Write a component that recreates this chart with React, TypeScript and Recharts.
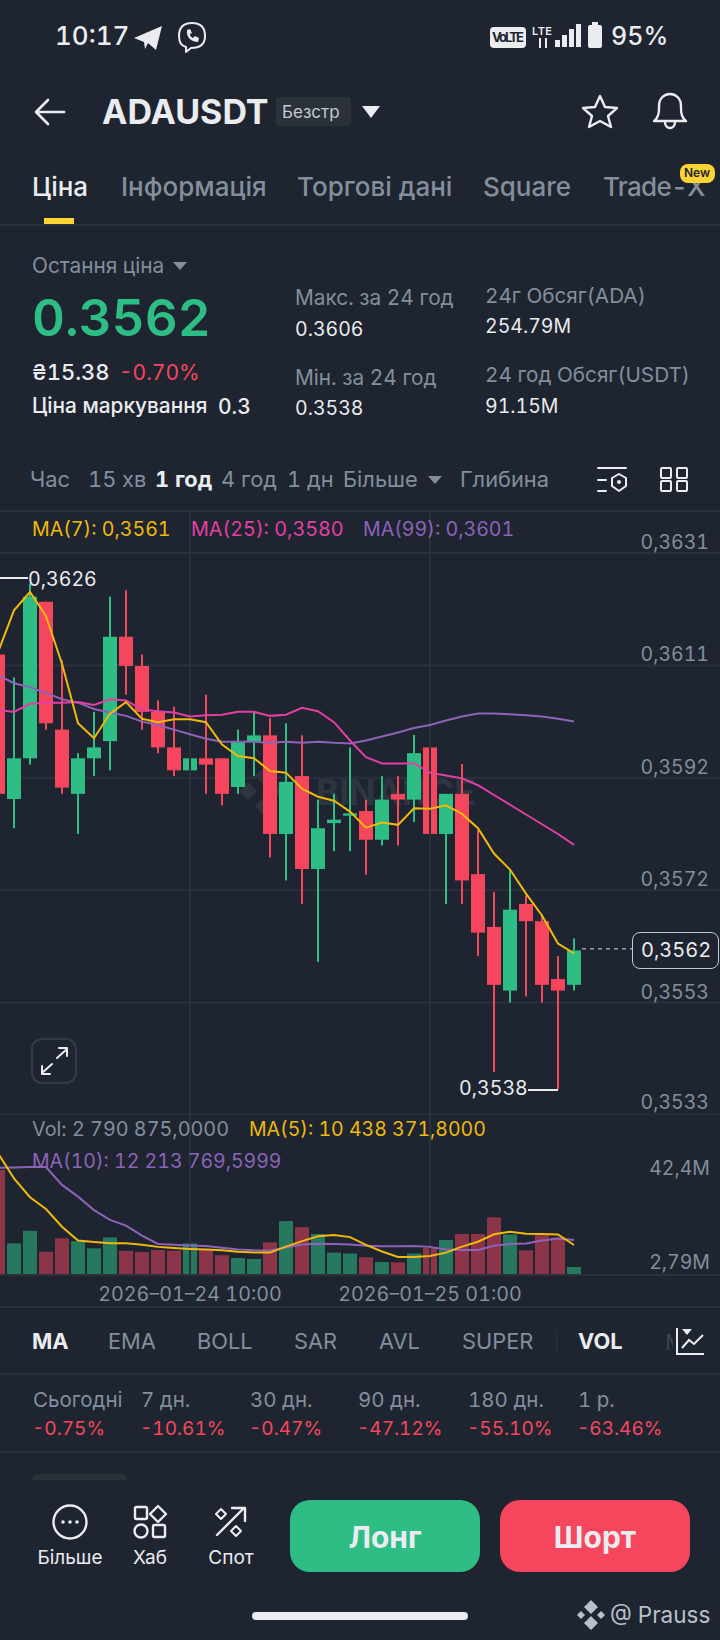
import React from "react";
import { Bar, CartesianGrid, Cell, ComposedChart, Line, ReferenceLine, XAxis, YAxis } from "recharts";

const BG = "#1e2530";
const GRID = "#2a303c";
const GREEN = "#2ebd85";
const RED = "#f6465d";
const GREY = "#848e9c";
const WHITE = "#eaecef";
const YELLOW = "#f0b90b";
const PINK = "#e23fa2";
const PURPLE = "#8c63b8";
const FONT = "Inter, sans-serif";

// hourly candles, the last nine slots are the empty space right of the last candle
const times = [
  "2026-01-23 22:00", "2026-01-23 23:00", "2026-01-24 00:00", "2026-01-24 01:00", "2026-01-24 02:00", "2026-01-24 03:00",
  "2026-01-24 04:00", "2026-01-24 05:00", "2026-01-24 06:00", "2026-01-24 07:00", "2026-01-24 08:00", "2026-01-24 09:00",
  "2026-01-24 10:00", "2026-01-24 11:00", "2026-01-24 12:00", "2026-01-24 13:00", "2026-01-24 14:00", "2026-01-24 15:00",
  "2026-01-24 16:00", "2026-01-24 17:00", "2026-01-24 18:00", "2026-01-24 19:00", "2026-01-24 20:00", "2026-01-24 21:00",
  "2026-01-24 22:00", "2026-01-24 23:00", "2026-01-25 00:00", "2026-01-25 01:00", "2026-01-25 02:00", "2026-01-25 03:00",
  "2026-01-25 04:00", "2026-01-25 05:00", "2026-01-25 06:00", "2026-01-25 07:00", "2026-01-25 08:00", "2026-01-25 09:00",
  "2026-01-25 10:00", "2026-01-25 11:00", "2026-01-25 12:00", "2026-01-25 13:00", "2026-01-25 14:00", "2026-01-25 15:00",
  "2026-01-25 16:00", "2026-01-25 17:00", "2026-01-25 18:00", "2026-01-25 19:00",
];
const dateTicks = ["2026-01-24 10:00", "2026-01-25 01:00"];
const dividerTimes = ["2026-01-24 10:00", "2026-01-25 01:00"];

const opens = [
  0.36133, 0.35881, 0.35952, 0.36225, 0.36002, 0.35890, 0.35952, 0.35982, 0.36164, 0.36113, 0.36033, 0.35971,
  0.35931, 0.35952, 0.35952, 0.35902, 0.35982, 0.35992, 0.35820, 0.35921, 0.35759, 0.35839, 0.35852, 0.35860,
  0.35810, 0.35890, 0.35880, 0.35971, 0.35820, 0.35890, 0.35750, 0.35658, 0.35547, 0.35698, 0.35668, 0.35567, 0.35557,
];
const closes = [
  0.35890, 0.35952, 0.36234, 0.36013, 0.35901, 0.35952, 0.35971, 0.36164, 0.36113, 0.36033, 0.35971, 0.35931,
  0.35952, 0.35941, 0.35890, 0.35982, 0.35992, 0.35820, 0.35911, 0.35759, 0.35830, 0.35845, 0.35856, 0.35810,
  0.35880, 0.35880, 0.35961, 0.35820, 0.35890, 0.35739, 0.35648, 0.35557, 0.35688, 0.35668, 0.35557, 0.35547, 0.35617,
];
const highs = [
  0.36140, 0.36093, 0.36257, 0.36225, 0.36123, 0.35961, 0.36033, 0.36234, 0.36245, 0.36133, 0.36053, 0.36042,
  0.36013, 0.36063, 0.35952, 0.36002, 0.36033, 0.36022, 0.36013, 0.35992, 0.35880, 0.35890, 0.35971, 0.35880,
  0.35921, 0.35921, 0.35993, 0.36001, 0.35890, 0.35942, 0.35827, 0.35719, 0.35757, 0.35713, 0.35678, 0.35607, 0.35638,
];
const lows = [
  0.35870, 0.35830, 0.35941, 0.36002, 0.35890, 0.35820, 0.35921, 0.35931, 0.36063, 0.36002, 0.35961, 0.35921,
  0.35830, 0.35890, 0.35870, 0.35890, 0.35921, 0.35779, 0.35739, 0.35698, 0.35597, 0.35790, 0.35790, 0.35749,
  0.35800, 0.35800, 0.35841, 0.35759, 0.35698, 0.35698, 0.35607, 0.35405, 0.35526, 0.35537, 0.35526, 0.35375, 0.35547,
];
const ma7 = [
  0.36137, 0.36210, 0.36242, 0.36200, 0.36117, 0.36013, 0.35987, 0.36030, 0.36050, 0.36021, 0.36015, 0.36020,
  0.36020, 0.36015, 0.35976, 0.35956, 0.35952, 0.35930, 0.35927, 0.35899, 0.35885, 0.35878, 0.35859, 0.35831,
  0.35840, 0.35836, 0.35865, 0.35864, 0.35870, 0.35855, 0.35830, 0.35786, 0.35758, 0.35716, 0.35678, 0.35629, 0.35612,
];
const ma25 = [
  0.36036, 0.36033, 0.36047, 0.36049, 0.36049, 0.36050, 0.36045, 0.36055, 0.36053, 0.36037, 0.36034, 0.36032,
  0.36025, 0.36027, 0.36028, 0.36033, 0.36033, 0.36026, 0.36028, 0.36040, 0.36034, 0.36015, 0.35983, 0.35954,
  0.35943, 0.35943, 0.35943, 0.35927, 0.35922, 0.35917, 0.35905, 0.35888, 0.35871, 0.35854, 0.35837, 0.35820, 0.35801,
];
const ma99 = [
  0.36097, 0.36083, 0.36076, 0.36066, 0.36055, 0.36049, 0.36038, 0.36032, 0.36026, 0.36016, 0.36010, 0.36002,
  0.35994, 0.35986, 0.35981, 0.35981, 0.35981, 0.35979, 0.35981, 0.35979, 0.35981, 0.35979, 0.35978, 0.35983,
  0.35990, 0.35997, 0.36005, 0.36010, 0.36018, 0.36025, 0.36030, 0.36030, 0.36029, 0.36027, 0.36025, 0.36021, 0.36016,
];
const volumes = [
  36.6, 11.0, 15.4, 8.1, 12.8, 11.8, 9.3, 13.1, 8.4, 8.0, 8.7, 8.5, 11.0, 8.7, 6.9, 5.9, 5.6, 11.4, 18.8,
  16.7, 14.3, 7.8, 7.5, 6.2, 4.5, 4.4, 7.5, 9.5, 12.2, 14.3, 14.3, 20.1, 14.1, 8.6, 13.9, 13.1, 2.79,
];
const volMa5 = [
  42.4, 33.7, 27.1, 23.0, 16.8, 12.0, 11.5, 11.1, 11.1, 10.5, 9.8, 9.4, 9.1, 8.9, 8.6, 8.1, 7.8, 7.8, 9.9,
  11.8, 13.5, 13.9, 13.2, 10.5, 8.2, 6.3, 6.3, 6.6, 7.8, 9.9, 11.6, 14.2, 15.1, 14.4, 14.3, 14.1, 10.44,
];
const volMa10 = [
  37.4, 37.5, 37.6, 37.6, 31.4, 27.3, 22.6, 19.2, 17.2, 13.7, 10.8, 10.5, 10.3, 10.1, 9.5, 8.9, 8.6, 8.5, 9.6,
  10.6, 10.9, 10.8, 10.6, 10.2, 10.0, 10.0, 10.1, 9.8, 8.9, 8.7, 8.7, 10.2, 10.8, 11.0, 12.0, 12.7, 12.21,
];

const priceTicks = [0.3631, 0.36114, 0.35918, 0.35722, 0.35526, 0.3533];
const volumeTicks = [42.4, 2.79];
const volumeTickLabels = ["42,4M", "2,79M"];
const lastPrice = 0.3562;

const rows = times.map((time, i) => ({
  time,
  open: opens[i],
  close: closes[i],
  high: highs[i],
  low: lows[i],
  ma7: ma7[i],
  ma25: ma25[i],
  ma99: ma99[i],
  volume: volumes[i],
  volMa5: volMa5[i],
  volMa10: volMa10[i],
}));

// wick + body, body edges scaled from the [low, high] rectangle recharts hands over
function Candle({ x, y, width, height, payload }: any) {
  if (payload?.high == null) return null;
  const { open, close, high, low } = payload;
  const perUnit = height / (high - low);
  const color = close >= open ? GREEN : RED;
  const top = y + (high - Math.max(open, close)) * perUnit;
  const bottom = y + (high - Math.min(open, close)) * perUnit;
  return (
    <g>
      <rect x={x + width / 2 - 1} y={y} width={2} height={height} fill={color} />
      <rect x={x} y={top} width={width} height={Math.max(bottom - top, 2)} fill={color} />
    </g>
  );
}

// chart x = page x + 10, the plot starts left of the page
function PriceTick({ y, payload, index }: any) {
  return (
    <text x={719} y={y - (index === 5 ? 13 : 11)} textAnchor="end" dominantBaseline="central" fill={GREY} fontSize={19.5} fontFamily={FONT}>
      {payload.value.toFixed(4).replace(".", ",")}
    </text>
  );
}

function VolumeTick({ y, index }: any) {
  return (
    <text x={720} y={y + (index === 0 ? 15 : -5)} textAnchor="end" dominantBaseline="central" fill={GREY} fontSize={19.5} fontFamily={FONT}>
      {volumeTickLabels[index]}
    </text>
  );
}

function T({ x, y, c = GREY, s = 20, w = 400, center, children, ls }: any) {
  return (
    <div
      style={{
        position: "absolute",
        left: x,
        top: y,
        transform: center ? "translate(-50%,-50%)" : "translateY(-50%)",
        color: c,
        fontSize: s,
        fontWeight: w,
        fontFamily: FONT,
        whiteSpace: "nowrap",
        letterSpacing: ls,
        lineHeight: 1,
      }}
    >
      {children}
    </div>
  );
}

function Box({ x, y, w, h, c, r = 0, border }: any) {
  return <div style={{ position: "absolute", left: x, top: y, width: w, height: h, background: c, borderRadius: r, border, boxSizing: "border-box" }} />;
}

function Tri({ x, y, w = 16, h = 10, c = GREY }: any) {
  return (
    <svg style={{ position: "absolute", left: x, top: y }} width={w} height={h}>
      <path d={`M0 0H${w}L${w / 2} ${h}Z`} fill={c} />
    </svg>
  );
}

const hr = (y: number) => <Box x={0} y={y} w={720} h={2} c={GRID} />;

const tabs: [string, number, number?][] = [["Інформація", 121], ["Торгові дані", 297], ["Square", 483], ["Trade-X", 603, -0.7]];
const periods: [string, number, boolean][] = [
  ["Час", 30, false], ["15 хв", 88, false], ["1 год", 155, true], ["4 год", 221, false], ["1 дн", 287, false], ["Більше", 343, false], ["Глибина", 460, false],
];
const indicators: [string, number, boolean][] = [
  ["MA", 32, true], ["EMA", 108, false], ["BOLL", 197, false], ["SAR", 294, false], ["AVL", 379, false], ["SUPER", 462, false], ["VOL", 578, true],
];
const changes: [string, string, number][] = [
  ["Сьогодні", "-0.75%", 33], ["7 дн.", "-10.61%", 141], ["30 дн.", "-0.47%", 250], ["90 дн.", "-47.12%", 358], ["180 дн.", "-55.10%", 468], ["1 р.", "-63.46%", 578],
];

function Page() {
  const stroke = { fill: "none", stroke: WHITE, strokeWidth: 2.4, strokeLinecap: "round", strokeLinejoin: "round" } as any;
  return (
    <svg style={{ position: "absolute", left: 0, top: 0 }} width={720} height={1640}>
      {/* status bar */}
      <path d="M134 38 L162 26 L156 50 L148 43 L145 49 L144 42 Z" fill={WHITE} />
      <path d="M192 23 C184 23 179 27 179 36 C179 43 182 46 186 47 L186 52 L191 48 C201 48 205 44 205 36 C205 27 200 23 192 23 Z" {...stroke} strokeWidth={2} />
      <path d="M187 30 C186 38 192 42 198 42 L199 38 L195 36 L193 38 C191 37 190 36 190 34 L192 33 L190 29 Z" fill={WHITE} />
      <rect x={490} y={27} width={36} height={21} rx={4} fill={WHITE} />
      <text x={508} y={42} textAnchor="middle" fontSize={13} fontWeight={700} fontFamily={FONT} fill={BG} textLength={32}>VoLTE</text>
      <text x={532} y={35} fontSize={11} fontWeight={600} fontFamily={FONT} fill={WHITE} textLength={20}>LTE</text>
      <path d="M540 38V48M546 38V48" stroke={WHITE} strokeWidth={2} />
      <rect x={555} y={40} width={5} height={7} fill={WHITE} />
      <rect x={562} y={35} width={5} height={12} fill={WHITE} />
      <rect x={569} y={29} width={5} height={18} fill={WHITE} />
      <rect x={576} y={24} width={5} height={23} fill={WHITE} />
      <rect x={588} y={25} width={14} height={23} rx={2} fill={WHITE} />
      <rect x={592} y={22} width={6} height={3} fill={WHITE} />
      {/* header icons */}
      <path d="M36 112H64M36 112L48 100M36 112L48 124" {...stroke} strokeWidth={2.6} />
      <path d="M600 96 L605 107 L617 108 L608 116 L611 127 L600 121 L589 127 L592 116 L583 108 L595 107 Z" {...stroke} />
      <path d="M654 121 C660 117 659 110 659 106 C659 90 681 90 681 106 C681 110 680 117 686 121 Z M665 122 C665 130 675 130 675 122" {...stroke} />
      {/* chart tools */}
      <path d="M598 468H626M598 480H606M598 491H606" {...stroke} strokeWidth={2} />
      <path d="M619 474 L626 478 V486 L619 491 L612 486 V478 Z" {...stroke} strokeWidth={2} />
      <circle cx={619} cy={482} r={2} fill={WHITE} />
      <g {...stroke} strokeWidth={2}>
        <rect x={661} y={468} width={10} height={10} rx={1} />
        <rect x={677} y={468} width={10} height={10} rx={1} />
        <rect x={661} y={481} width={10} height={10} rx={1} />
        <rect x={677} y={481} width={10} height={10} rx={1} />
      </g>
      {/* bottom bar icons */}
      <circle cx={70} cy={1522} r={16.5} {...stroke} />
      <circle cx={63} cy={1522} r={1.8} fill={WHITE} />
      <circle cx={70} cy={1522} r={1.8} fill={WHITE} />
      <circle cx={77} cy={1522} r={1.8} fill={WHITE} />
      <rect x={135} y={1507} width={12} height={12} rx={1.5} {...stroke} />
      <path d="M158 1506 L166 1514 L158 1522 L150 1514 Z" {...stroke} />
      <circle cx={141} cy={1531} r={6.5} {...stroke} />
      <rect x={153} y={1525} width={12} height={12} rx={1.5} {...stroke} />
      <path d="M217 1535 L244 1508 M232 1508 H245 V1521" {...stroke} />
      <path d="M221 1509 L226 1514 L221 1519 L216 1514 Z M236 1526 L241 1531 L236 1536 L231 1531 Z" {...stroke} strokeWidth={2} />
      {/* expand button */}
      <rect x={32} y={1039} width={44} height={44} rx={10} fill="none" stroke="#343b48" strokeWidth={2} />
      <path d="M57 1058 L67 1049 M59 1048 H67 V1056 M52 1064 L42 1073 M42 1066 V1074 H50" {...stroke} strokeWidth={2} />
      {/* watermark at the bottom */}
      <path d="M591 1600 L598 1607 L591 1614 L584 1607 Z M591 1616 L598 1623 L591 1630 L584 1623 Z M581 1611 L585 1615 L581 1619 L577 1615 Z M601 1611 L605 1615 L601 1619 L597 1615 Z" fill="#b9bfc8" />
    </svg>
  );
}

function Watermark() {
  return (
    <>
      <svg style={{ position: "absolute", left: 238, top: 764 }} width={54} height={54}>
        <path d="M27 2 L37 12 L27 22 L17 12 Z M27 32 L37 42 L27 52 L17 42 Z M10 18 L19 27 L10 36 L1 27 Z M44 18 L53 27 L44 36 L35 27 Z" fill="#2e3541" />
      </svg>
      <T x={316} y={792} c="#2e3541" s={35} w={700}>BINANCE</T>
    </>
  );
}

export default function App() {
  return (
    <div style={{ position: "absolute", left: 0, top: 0, width: 720, height: 1640, background: BG, overflow: "hidden", fontVariantNumeric: "tabular-nums" }}>
      <Page />

      {/* header */}
      <T x={55} y={36} c={WHITE} s={26} w={500}>10:17</T>
      <T x={611} y={36} c={WHITE} s={25} w={500}>95%</T>
      <T x={102} y={112} c={WHITE} s={34} w={700}>ADAUSDT</T>
      <Box x={276} y={97} w={75} h={29} c="#2b3139" r={4} />
      <T x={282} y={112} c="#c4c9d1" s={17}>Безстр</T>
      <Tri x={362} y={106} w={18} h={12} c={WHITE} />

      <T x={32} y={187} c={WHITE} s={26} w={500}>Ціна</T>
      {tabs.map(([t, x, ls]) => (
        <T key={t} x={x} y={187} s={26} w={500} ls={ls}>{t}</T>
      ))}
      <Box x={680} y={164} w={35} h={19} c="#fcd535" r={8} />
      <T x={697} y={173} c={BG} s={12} w={600} center>New</T>
      <Box x={44} y={218} w={30} h={6} c="#fcd535" />
      {hr(224)}

      {/* price block */}
      <T x={32} y={266} s={20.8}>Остання ціна</T>
      <Tri x={173} y={262} w={14} h={8} />
      <T x={32} y={317} c={GREEN} s={51} w={600}>0.3562</T>
      <T x={32} y={372} c={WHITE} s={22} w={500}>₴15.38</T>
      <T x={119} y={372} c={RED} s={21}>-0.70%</T>
      <T x={32} y={406} c={WHITE} s={20.8} w={500}>Ціна маркування</T>
      <T x={218} y={406} c={WHITE} s={21} w={500}>0.3</T>
      <T x={295} y={298} s={20.8}>Макс. за 24 год</T>
      <T x={295} y={330} c={WHITE} s={19.5}>0.3606</T>
      <T x={295} y={378} s={20.8}>Мін. за 24 год</T>
      <T x={295} y={409} c={WHITE} s={19.5}>0.3538</T>
      <T x={485} y={296} s={20.7}>24г Обсяг(ADA)</T>
      <T x={485} y={327} c={WHITE} s={19.5}>254.79M</T>
      <T x={485} y={375} s={20.7}>24 год Обсяг(USDT)</T>
      <T x={485} y={407} c={WHITE} s={19.5}>91.15M</T>

      {periods.map(([t, x, active]) => (
        <T key={t} x={x} y={480} s={21.8} c={active ? WHITE : GREY} w={active ? 700 : 400}>{t}</T>
      ))}
      <Tri x={428} y={476} w={14} h={8} />

      {/* charts */}
      {hr(510)}
      <Watermark />

      <div style={{ position: "absolute", left: -10, top: 510 }}>
        <ComposedChart width={786} height={605} data={rows} margin={{ top: 0, right: 0, bottom: 0, left: 0 }} barSize={14}>
          <CartesianGrid vertical={false} stroke={GRID} strokeWidth={2} />
          <XAxis dataKey="time" hide />
          <YAxis orientation="right" width={50} domain={[0.3533, 0.36385]} ticks={priceTicks} interval={0} tick={<PriceTick />} tickLine={false} axisLine={false} />
          {dividerTimes.map((t) => (
            <ReferenceLine key={t} x={t} stroke={GRID} strokeWidth={2} />
          ))}
          <ReferenceLine
            segment={[{ x: times[36], y: lastPrice }, { x: times[40], y: lastPrice }]}
            shape={(p: any) => <line x1={p.x1 + 8} y1={p.y1} x2={p.x2} y2={p.y2} stroke="#9aa1ac" strokeWidth={1.5} strokeDasharray="4 4" />}
          />
          <Bar dataKey={(d: any) => (d.high == null ? null : [d.low, d.high])} shape={<Candle />} isAnimationActive={false} />
          <Line dataKey="ma99" stroke={PURPLE} strokeWidth={2} dot={false} isAnimationActive={false} />
          <Line dataKey="ma25" stroke={PINK} strokeWidth={2} dot={false} isAnimationActive={false} />
          <Line dataKey="ma7" stroke={YELLOW} strokeWidth={2} dot={false} isAnimationActive={false} />
        </ComposedChart>
      </div>

      <div style={{ position: "absolute", left: -10, top: 1115 }}>
        <ComposedChart width={786} height={195} data={rows} margin={{ top: 0, right: 0, bottom: 0, left: 0 }} barSize={14}>
          <XAxis
            dataKey="time"
            ticks={dateTicks}
            interval={0}
            height={35}
            tickLine={false}
            axisLine={{ stroke: GRID, strokeWidth: 2 }}
            tick={{ fill: GREY, fontSize: 19.7, fontFamily: FONT }}
            tickFormatter={(t: string) => t.replace(/-/g, "–")}
            tickMargin={6}
          />
          <YAxis orientation="right" width={50} domain={[0, 55.75]} ticks={volumeTicks} interval={0} tick={<VolumeTick />} tickLine={false} axisLine={false} />
          {dividerTimes.map((t) => (
            <ReferenceLine key={t} x={t} stroke={GRID} strokeWidth={2} />
          ))}
          <Bar dataKey="volume" isAnimationActive={false}>
            {rows.map((r, i) => (
              <Cell key={i} fill={r.close >= r.open ? "#26785f" : "#8c3448"} />
            ))}
          </Bar>
          <Line dataKey="volMa10" stroke={PURPLE} strokeWidth={2} dot={false} isAnimationActive={false} />
          <Line dataKey="volMa5" stroke={YELLOW} strokeWidth={2} dot={false} isAnimationActive={false} />
        </ComposedChart>
      </div>

      <T x={32} y={530} c={YELLOW} s={19.6}>MA(7): 0,3561</T>
      <T x={191} y={530} c={PINK} s={19.8}>MA(25): 0,3580</T>
      <T x={363} y={530} c={PURPLE} s={19.6}>MA(99): 0,3601</T>
      <T x={32} y={1130} s={19.8}>Vol: 2 790 875,0000</T>
      <T x={249} y={1130} c={YELLOW} s={19.5}>MA(5): 10 438 371,8000</T>
      <T x={32} y={1162} c={PURPLE} s={19.5}>MA(10): 12 213 769,5999</T>

      {/* high / low / last price notes */}
      <Box x={0} y={577} w={28} h={1.5} c={WHITE} />
      <T x={28} y={580} c={WHITE} s={19.6}>0,3626</T>
      <T x={459} y={1089} c={WHITE} s={19.6}>0,3538</T>
      <Box x={528} y={1089} w={30} h={1.5} c={WHITE} />
      <Box x={632} y={932} w={87} h={37} c={BG} r={8} border="1.5px solid #c5c9d0" />
      <T x={641} y={950} c={WHITE} s={20}>0,3562</T>

      {/* indicator row */}
      {hr(1306)}
      {indicators.map(([t, x, active]) => (
        <T key={t} x={x} y={1342} s={21.8} c={active ? WHITE : GREY} w={active ? 700 : 400}>{t}</T>
      ))}
      <Box x={556} y={1329} w={1} h={24} c={GRID} />
      <T x={665} y={1342} s={22} c="#3d4450">M</T>
      <Box x={673} y={1325} w={47} h={34} c={BG} />
      <svg style={{ position: "absolute", left: 673, top: 1325 }} width={47} height={34}>
        <path d="M4 3V29H31M9 23 L16 15 L21 19 L30 10" fill="none" stroke={WHITE} strokeWidth={2} />
        <path d="M9 4H19L14 10Z" fill={WHITE} />
      </svg>
      {hr(1373)}
      {changes.map(([label, value, x]) => (
        <React.Fragment key={label}>
          <T x={x} y={1400} s={20.5}>{label}</T>
          <T x={x - 1} y={1428} s={19} c={RED}>{value}</T>
        </React.Fragment>
      ))}
      {hr(1451)}
      <div style={{ position: "absolute", left: 32, top: 1474, width: 95, height: 6, background: "#2b3139", borderRadius: "8px 8px 0 0" }} />

      {/* bottom bar */}
      <T x={70} y={1557} c={WHITE} s={19} center>Більше</T>
      <T x={150} y={1557} c={WHITE} s={19} center>Хаб</T>
      <T x={231} y={1557} c={WHITE} s={19} center>Спот</T>
      <Box x={290} y={1500} w={190} h={72} c={GREEN} r={20} />
      <Box x={500} y={1500} w={190} h={72} c={RED} r={20} />
      <T x={385} y={1537} c={WHITE} s={30} w={700} center>Лонг</T>
      <T x={595} y={1537} c={WHITE} s={30} w={700} center>Шорт</T>
      <Box x={252} y={1612} w={216} h={8} c={WHITE} r={4} />
      <T x={610} y={1615} c="#b9bfc8" s={22.5}>@ Prauss</T>
    </div>
  );
}
